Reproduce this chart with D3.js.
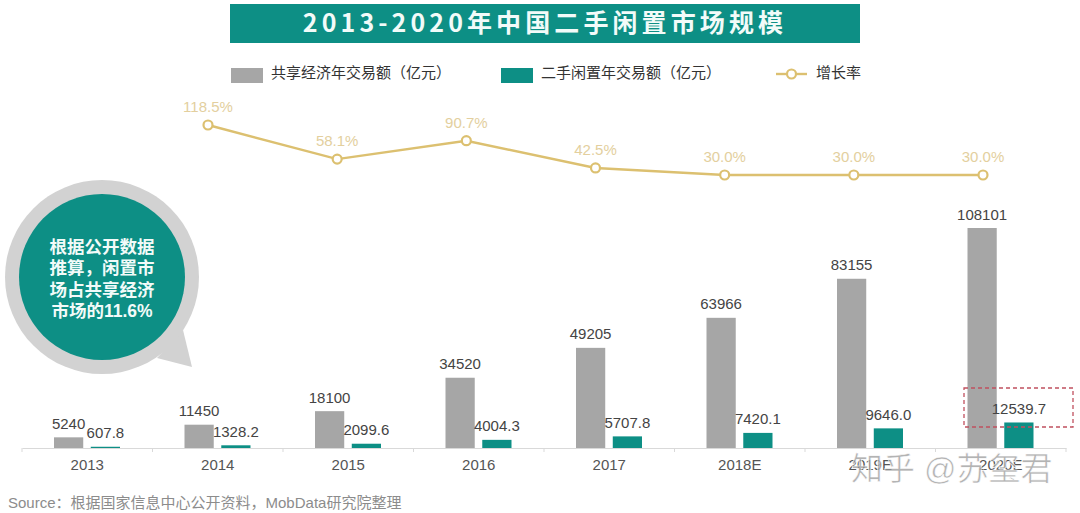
<!DOCTYPE html>
<html>
<head>
<meta charset="utf-8">
<script src="https://d3js.org/d3.v7.min.js"></script>
<style>
    html, body { margin: 0; padding: 0; background: #fff; }
    svg { display: block; }
    text { font-family: "Liberation Sans", "Noto Sans CJK SC", sans-serif; }
</style>
</head>
<body>
<div id="chart"></div>
<script>
// Values
const years = ["2013", "2014", "2015", "2016", "2017", "2018E", "2019E", "2020E"];
const sharingValues = [5240, 11450, 18100, 34520, 49205, 63966, 83155, 108101];
const secondHandValues = [607.8, 1328.2, 2099.6, 4004.3, 5707.8, 7420.1, 9646.0, 12539.7];
const growthYears = ["2014", "2015", "2016", "2017", "2018E", "2019E", "2020E"];
const growthValues = [118.5, 58.1, 90.7, 42.5, 30.0, 30.0, 30.0];
const seriesNames = ["共享经济年交易额（亿元）", "二手闲置年交易额（亿元）"];
const growthName = "增长率";
const bubbleLines = ["根据公开数据", "推算，闲置市", "场占共享经济", "市场的11.6%"];

const teal = "#0d8f85";
const gray = "#a6a6a6";
const gold = "#dcc070";

const svg = d3.select("#chart")
    .append("svg")
    .attr("width", 1080)
    .attr("height", 513);

// Title banner
svg.append("rect")
    .attr("x", 230)
    .attr("y", 4)
    .attr("width", 630)
    .attr("height", 39)
    .attr("fill", teal);

svg.append("text")
    .attr("x", 545)
    .attr("y", 32)
    .attr("text-anchor", "middle")
    .attr("fill", "#f2fbf9")
    .attr("font-size", 25)
    .attr("font-weight", "bold")
    .attr("letter-spacing", 4.1)
    .style("font-family", '"Noto Sans CJK SC", sans-serif')
    .text("2013-2020年中国二手闲置市场规模");

// Scales
const x = d3.scaleBand()
    .domain(years)
    .range([22, 1066]);

const xInner = d3.scaleBand()
    .domain(["sharing", "secondHand"])
    .range([32, 98])
    .paddingInner(0.205);

const y = d3.scaleLinear()
    .domain([0, 108101])
    .range([448, 228]);

const yGrowth = d3.scaleLinear()
    .domain([30, 118.5])
    .range([175, 125]);

const xGrowth = d3.scalePoint()
    .domain(growthYears)
    .range([208, 983]);

// Axis
const axis = svg.append("g")
    .attr("transform", "translate(0,448)")
    .call(d3.axisBottom(x).tickSize(0).tickPadding(11));

axis.select(".domain").attr("stroke", "#d9d9d9");
axis.selectAll("text")
    .attr("font-size", 15)
    .attr("fill", "#555")
    .style("font-family", '"Liberation Sans", sans-serif');

// Small ticks sit on the band edges
axis.selectAll("line.edge")
    .data(years.concat("end"))
    .enter()
    .append("line")
    .attr("class", "edge")
    .attr("x1", (d, i) => x.range()[0] + i * x.step())
    .attr("x2", (d, i) => x.range()[0] + i * x.step())
    .attr("y1", 0)
    .attr("y2", 4)
    .attr("stroke", "#d9d9d9");

// Bars
function drawBars(values, key, color) {
    const group = svg.append("g");

    group.selectAll("rect")
        .data(values)
        .enter()
        .append("rect")
        .attr("x", (d, i) => x(years[i]) + xInner(key))
        .attr("y", d => y(d))
        .attr("width", xInner.bandwidth())
        .attr("height", d => y(0) - y(d))
        .attr("fill", color);

    group.selectAll("text")
        .data(values)
        .enter()
        .append("text")
        .attr("x", (d, i) => x(years[i]) + xInner(key) + xInner.bandwidth() / 2)
        .attr("y", d => y(d) - 8.5)
        .attr("text-anchor", "middle")
        .attr("font-size", 15)
        .attr("fill", "#444")
        .text(d => key === "secondHand" ? d.toFixed(1) : d);
}

drawBars(sharingValues, "sharing", gray);
drawBars(secondHandValues, "secondHand", teal);

// Growth line
const line = d3.line()
    .x((d, i) => xGrowth(growthYears[i]))
    .y(d => yGrowth(d));

svg.append("path")
    .datum(growthValues)
    .attr("fill", "none")
    .attr("stroke", gold)
    .attr("stroke-width", 2.4)
    .attr("d", line);

svg.selectAll("circle.growth")
    .data(growthValues)
    .enter()
    .append("circle")
    .attr("class", "growth")
    .attr("cx", (d, i) => xGrowth(growthYears[i]))
    .attr("cy", d => yGrowth(d))
    .attr("r", 4.5)
    .attr("fill", "#fff")
    .attr("stroke", gold)
    .attr("stroke-width", 2.2);

svg.selectAll("text.growth")
    .data(growthValues)
    .enter()
    .append("text")
    .attr("class", "growth")
    .attr("x", (d, i) => xGrowth(growthYears[i]))
    .attr("y", d => yGrowth(d) - 13)
    .attr("text-anchor", "middle")
    .attr("font-size", 15)
    .attr("fill", "#e3cf9e")
    .text(d => d.toFixed(1) + "%");

// Legend
const legendSwatches = [
    {x: 231, color: gray, name: seriesNames[0]},
    {x: 501, color: teal, name: seriesNames[1]}
];

legendSwatches.forEach(function(item) {
    svg.append("rect")
        .attr("x", item.x)
        .attr("y", 68)
        .attr("width", 32)
        .attr("height", 15)
        .attr("fill", item.color);

    svg.append("text")
        .attr("x", item.x + 40)
        .attr("y", 78)
        .attr("font-size", 15)
        .attr("fill", "#333")
        .text(item.name);
});

svg.append("line")
    .attr("x1", 776)
    .attr("x2", 807)
    .attr("y1", 74)
    .attr("y2", 74)
    .attr("stroke", gold)
    .attr("stroke-width", 2.4);

svg.append("circle")
    .attr("cx", 791.5)
    .attr("cy", 74)
    .attr("r", 4.5)
    .attr("fill", "#fff")
    .attr("stroke", gold)
    .attr("stroke-width", 2.2);

svg.append("text")
    .attr("x", 816)
    .attr("y", 78)
    .attr("font-size", 15)
    .attr("fill", "#333")
    .text(growthName);

// Speech bubble
svg.append("path")
    .attr("d", "M183,330L192,367L157,358Z")
    .attr("fill", "#d2d2d2");

svg.append("circle")
    .attr("cx", 102)
    .attr("cy", 277)
    .attr("r", 97)
    .attr("fill", "#d2d2d2");

svg.append("circle")
    .attr("cx", 102)
    .attr("cy", 277)
    .attr("r", 83)
    .attr("fill", teal);

svg.selectAll("text.bubble")
    .data(bubbleLines)
    .enter()
    .append("text")
    .attr("class", "bubble")
    .attr("x", 102)
    .attr("y", (d, i) => 253 + i * 21.3)
    .attr("text-anchor", "middle")
    .attr("font-size", 17.5)
    .attr("font-weight", "bold")
    .attr("fill", "#f2fbf9")
    .text(d => d);

// Dashed highlight around the last value
svg.append("rect")
    .attr("x", 964)
    .attr("y", 388)
    .attr("width", 109)
    .attr("height", 39)
    .attr("fill", "none")
    .attr("stroke", "#c0505f")
    .attr("stroke-width", 1.3)
    .attr("stroke-dasharray", "4,3");

// Source note
svg.append("text")
    .attr("x", 8)
    .attr("y", 508)
    .attr("font-size", 15)
    .attr("fill", "#8c8c8c")
    .text("Source：根据国家信息中心公开资料，MobData研究院整理");

// Site watermark over the last tick labels
svg.append("text")
    .attr("x", 851)
    .attr("y", 480)
    .attr("font-size", 32)
    .attr("fill", "#9a9a9a")
    .attr("fill-opacity", 0.75)
    .attr("stroke", "#fff")
    .attr("stroke-width", 0.6)
    .text("知乎 @苏玺君");
</script>
</body>
</html>
